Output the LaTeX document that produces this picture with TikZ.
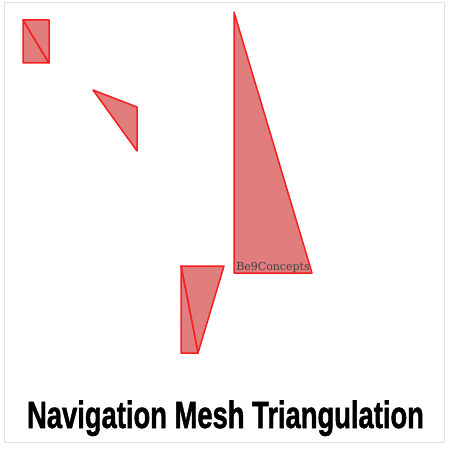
\documentclass[tikz,border=0pt]{standalone}
\usepackage{fontspec}
\usepackage{tikz}
\usetikzlibrary{positioning}
\newfontfamily\titlefont[BoldFeatures={FakeBold=1.5}]{Liberation Sans}
\newfontfamily\markfont{DejaVu Serif}
\definecolor{meshred}{RGB}{245,30,30}
\definecolor{meshfill}{RGB}{226,125,125}
\tikzset{
  meshtri/.style={draw=meshred, fill=meshfill, line width=1.5pt, line join=round},
  frame/.style={draw=black!12, line width=0.8pt},
  titletext/.style={font=\titlefont\bfseries\fontsize{38}{38}\selectfont, inner sep=0pt, anchor=base},
  brandtext/.style={font=\markfont\fontsize{11}{12}\selectfont, text=black!75, inner sep=0pt, anchor=base}
}
\begin{document}
\begin{tikzpicture}[x=1pt, y=-1pt]
\useasboundingbox (0,0) rectangle (449,449);
\draw[frame] (4,2) rectangle (444,442);
\draw[meshtri] (23,20) -- (49,63) -- (23,63) -- cycle;
\draw[meshtri] (23,20) -- (49,20) -- (49,63) -- cycle;
\draw[meshtri] (93,90) -- (137,107) -- (137,151) -- cycle;
\draw[meshtri] (234,12) -- (312,273) -- (234,273) -- cycle;
\draw[meshtri] (181,266) -- (224,266) -- (198,353) -- cycle;
\draw[meshtri] (181,266) -- (198,353) -- (181,353) -- cycle;
\node[brandtext] (brand) at (273,270) {Be9Concepts};
\node[titletext] (caption) at (225.5,428) {\scalebox{0.72}[1]{Navigation Mesh Triangulation}};
\end{tikzpicture}
\end{document}
